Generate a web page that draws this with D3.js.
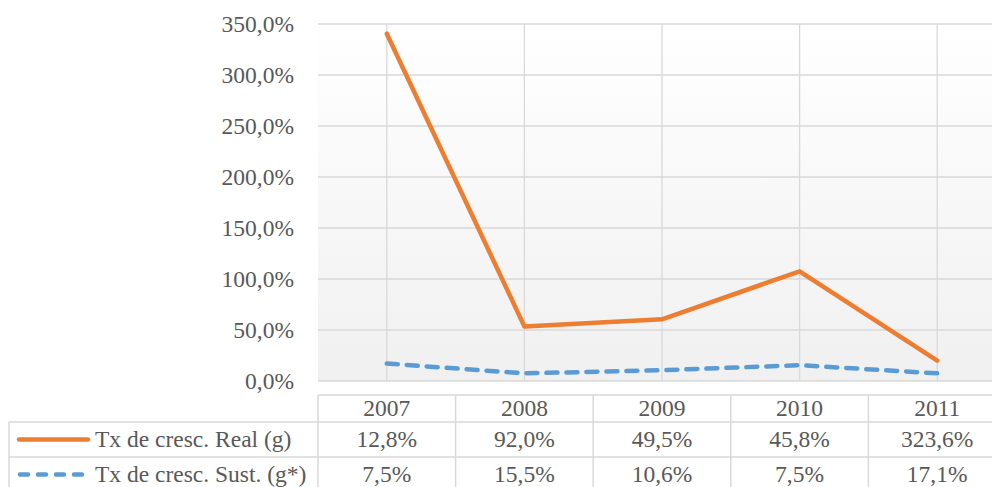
<!DOCTYPE html>
<html><head><meta charset="utf-8">
<script src="https://cdn.jsdelivr.net/npm/d3@7"></script>
<style>body{margin:0;background:#fff;}svg{display:block;} svg text{font-family:"Liberation Serif","Times New Roman",Tinos,"DejaVu Serif",serif !important;}</style>
</head><body>
<svg id="c" width="992" height="487"></svg>
<script>
const categories = ["2007","2008","2009","2010","2011"];
const realPlotted = [340.5, 53.5, 60.5, 107.5, 20.0];
const sustPlotted = [17.1, 7.5, 10.6, 15.5, 7.5];
const realTable = ["12,8%","92,0%","49,5%","45,8%","323,6%"];
const sustTable = ["7,5%","15,5%","10,6%","7,5%","17,1%"];
const seriesNames = ["Tx de cresc. Real (g)","Tx de cresc. Sust. (g*)"];
const yTicks = [0,50,100,150,200,250,300,350];

const svg = d3.select("#c");
const pLeft = 318, pRight = 1006, pTop = 24, pBottom = 381;
const textCol = "#595959", grid = "#d9d9d9";
const orange = "#ED7D31", blue = "#5B9BD5";
const fs = 23.5;

const x = d3.scaleBand().domain(categories).range([pLeft, pRight]);
const y = d3.scaleLinear().domain([0,350]).range([pBottom, pTop]);

const defs = svg.append("defs");
const lg = defs.append("linearGradient").attr("id","bg").attr("x1",0).attr("y1",0).attr("x2",0).attr("y2",1);
lg.append("stop").attr("offset","0%").attr("stop-color","#ffffff");
lg.append("stop").attr("offset","100%").attr("stop-color","#f0f0f0");
svg.append("rect").attr("x",pLeft).attr("y",pTop).attr("width",pRight-pLeft).attr("height",pBottom-pTop).attr("fill","url(#bg)");

svg.append("g").selectAll("line").data(yTicks).join("line")
  .attr("x1",pLeft).attr("x2",pRight).attr("y1",d=>y(d)).attr("y2",d=>y(d))
  .attr("stroke",grid).attr("stroke-width",1.3);
svg.append("g").selectAll("line").data(categories).join("line")
  .attr("x1",d=>x(d)+x.bandwidth()/2).attr("x2",d=>x(d)+x.bandwidth()/2)
  .attr("y1",pTop).attr("y2",pBottom).attr("stroke",grid).attr("stroke-width",1.3);

const fmt = v => d3.format(".1f")(v).replace(".",",") + "%";
const yAxis = d3.axisLeft(y).tickValues(yTicks).tickFormat(fmt).tickSize(0).tickPadding(0);
const ga = svg.append("g").attr("transform",`translate(294,0)`).call(yAxis);
ga.select(".domain").remove();
ga.selectAll("text").attr("font-size",fs).attr("fill",textCol).attr("dy","0.33em");

const cx = d => x(d)+x.bandwidth()/2;
const line = d3.line().x((d,i)=>cx(categories[i])).y(d=>y(d));
svg.append("path").datum(sustPlotted).attr("d",line).attr("fill","none")
  .attr("stroke",blue).attr("stroke-width",4.5).attr("stroke-dasharray","11,9").attr("stroke-linecap","round");
svg.append("path").datum(realPlotted).attr("d",line).attr("fill","none")
  .attr("stroke",orange).attr("stroke-width",4.5).attr("stroke-linecap","round").attr("stroke-linejoin","round");

const tTop = 395, hRow = 27, dRow = 35, legLeft = 9;
const tb = svg.append("g");
const rowY = [tTop, tTop+hRow, tTop+hRow+dRow, tTop+hRow+2*dRow];
tb.append("line").attr("x1",pLeft).attr("x2",pRight).attr("y1",rowY[0]).attr("y2",rowY[0]).attr("stroke",grid).attr("stroke-width",1.5);
[1,2,3].forEach(k=>{
  tb.append("line").attr("x1",legLeft).attr("x2",pRight).attr("y1",rowY[k]).attr("y2",rowY[k]).attr("stroke",grid).attr("stroke-width",1.5);
});
tb.append("line").attr("x1",legLeft).attr("x2",legLeft).attr("y1",rowY[1]).attr("y2",rowY[3]).attr("stroke",grid).attr("stroke-width",1.5);
const colEdges = categories.map(c=>x(c)).concat([pRight]);
tb.selectAll("line.col").data(colEdges).join("line").attr("class","col")
  .attr("x1",d=>d).attr("x2",d=>d).attr("y1",rowY[0]).attr("y2",rowY[3]).attr("stroke",grid).attr("stroke-width",1.5);

const txt = (sel) => sel.attr("font-size",fs).attr("fill",textCol);
tb.selectAll("text.h").data(categories).join("text").attr("class","h")
  .attr("x",d=>cx(d)).attr("y",rowY[0]+hRow/2).attr("dy","0.33em").attr("text-anchor","middle").text(d=>d).call(txt);
tb.selectAll("text.r").data(realTable).join("text").attr("class","r")
  .attr("x",(d,i)=>cx(categories[i])).attr("y",rowY[1]+dRow/2).attr("dy","0.33em").attr("text-anchor","middle").text(d=>d).call(txt);
tb.selectAll("text.s").data(sustTable).join("text").attr("class","s")
  .attr("x",(d,i)=>cx(categories[i])).attr("y",rowY[2]+dRow/2).attr("dy","0.33em").attr("text-anchor","middle").text(d=>d).call(txt);

tb.append("line").attr("x1",19).attr("x2",88).attr("y1",rowY[1]+dRow/2).attr("y2",rowY[1]+dRow/2)
  .attr("stroke",orange).attr("stroke-width",4.5).attr("stroke-linecap","round");
tb.append("line").attr("x1",20).attr("x2",86).attr("y1",rowY[2]+dRow/2).attr("y2",rowY[2]+dRow/2)
  .attr("stroke",blue).attr("stroke-width",4.5).attr("stroke-dasharray","8,10").attr("stroke-linecap","round");
tb.selectAll("text.l").data(seriesNames).join("text").attr("class","l")
  .attr("x",95).attr("y",(d,i)=>rowY[1+i]+dRow/2).attr("dy","0.33em").text(d=>d).call(txt);
</script>
</body></html>
